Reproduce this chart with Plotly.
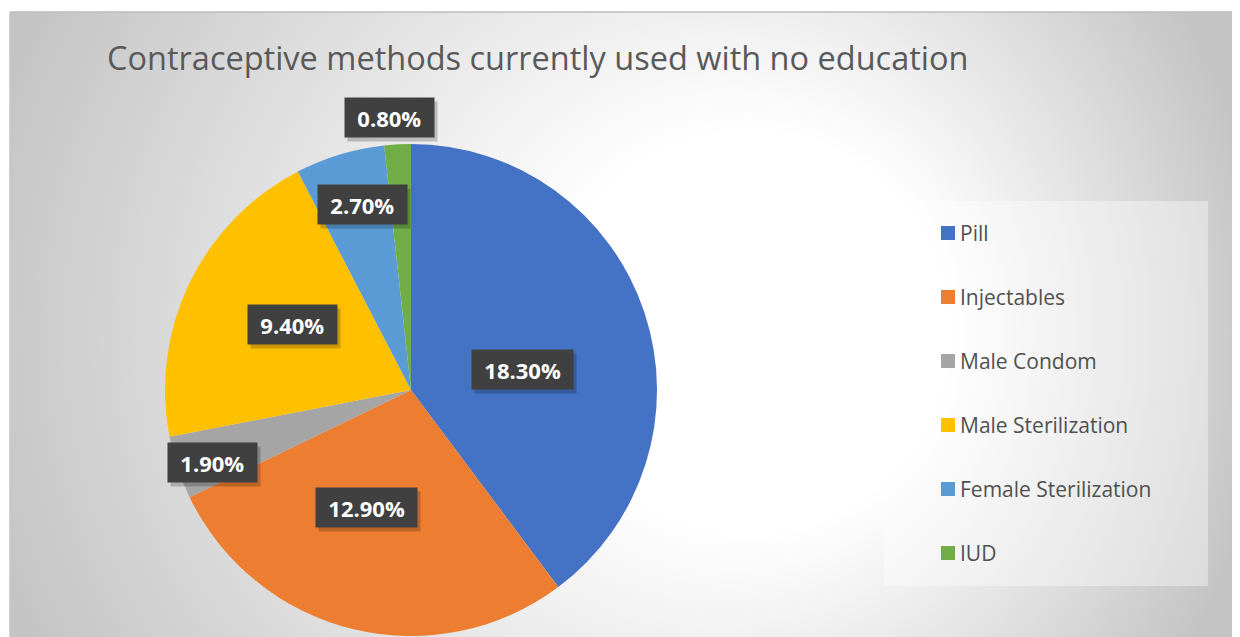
import math
import base64
import plotly.graph_objects as go

# ---------------- data ----------------
methods = ["Pill", "Injectables", "Male Condom", "Male Sterilization", "Female Sterilization", "IUD"]
values = [18.30, 12.90, 1.90, 9.40, 2.70, 0.80]
colors = ["#4472C4", "#ED7D31", "#A5A5A5", "#FFC000", "#5B9BD5", "#70AD47"]
title_text = "Contraceptive methods currently used with no education"

# ---------------- layout constants (page px) ----------------
OFF = 8                             # page offset of the figure (body margin)
W, H = 1240 - OFF, 637 - OFF
CX, CY, R = 411, 390, 246          # pie centre / radius in page pixels
# label placement (Excel "best fit" style): radial factor and angular nudge
LABEL_RF = [0.46, 0.51, 0.86, 0.55, 0.78, 1.11]
LABEL_DA = [7.7, 7.2, -1.6, 3.1, 2.2, -1.3]
LBL_FONT = 22


def px_x(x):
    return (x - OFF) / W


def px_y(y):
    return 1 - (y - OFF) / H


def text_w(s, size):
    # rough Open Sans Bold advance widths
    w = 0.0
    for ch in s:
        if ch.isdigit():
            w += 0.572
        elif ch == ".":
            w += 0.29
        elif ch == "%":
            w += 0.84
        else:
            w += 0.6
    return w * size


fig = go.Figure()

fig.add_trace(go.Pie(
    labels=methods,
    values=values,
    marker=dict(colors=colors, line=dict(color="white", width=0)),
    sort=False,
    direction="clockwise",
    rotation=0,
    textinfo="none",
    hovertemplate="%{label}: %{value:.2f}%<extra></extra>",
    domain=dict(x=[px_x(CX - R), px_x(CX + R)], y=[max(0, px_y(CY + R)), px_y(CY - R)]),
    showlegend=False,
))

# ---------------- data labels ----------------
total = sum(values)
annotations = []
cum = 0.0
for i, v in enumerate(values):
    mid = (cum + v / 2) / total * 360.0
    cum += v
    ang = math.radians(mid + LABEL_DA[i])
    r = R * LABEL_RF[i]
    lx = CX + r * math.sin(ang)
    ly = CY - r * math.cos(ang)
    plain = f"{v:.2f}%"
    bw = text_w(plain, LBL_FONT) + 8
    # soft shadow box
    annotations.append(dict(
        x=px_x(lx), y=px_y(ly), xref="paper", yref="paper",
        xanchor="center", yanchor="middle",
        text=" ", showarrow=False, xshift=3, yshift=-4, width=bw, height=21,
        font=dict(family="Open Sans", size=LBL_FONT, color="rgba(0,0,0,0)"),
        bgcolor="rgba(0,0,0,0.2)", borderpad=9,
    ))
    annotations.append(dict(
        x=px_x(lx), y=px_y(ly), xref="paper", yref="paper",
        xanchor="center", yanchor="middle",
        text=f"<b>{plain}</b>", showarrow=False, width=bw, height=21,
        font=dict(family="Open Sans", size=LBL_FONT, color="white"),
        bgcolor="#404040", borderpad=9,
    ))

# ---------------- title ----------------
annotations.append(dict(
    x=px_x(105), y=px_y(57), xref="paper", yref="paper",
    xanchor="left", yanchor="middle", showarrow=False,
    text=title_text,
    font=dict(family="Open Sans", size=32.5, color="#595959"),
))

# ---------------- legend (drawn manually for Excel-like spacing) ----------------
shapes = []
LEG_X0, LEG_X1, LEG_Y0, LEG_Y1 = 884, 1208, 201, 586
shapes.append(dict(type="rect", xref="paper", yref="paper",
                   x0=px_x(LEG_X0), x1=px_x(LEG_X1), y0=px_y(LEG_Y1), y1=px_y(LEG_Y0),
                   fillcolor="rgba(255,255,255,0.38)", line=dict(width=0), layer="below"))
ROW0, ROWGAP = 233, 64
for i, (m, c) in enumerate(zip(methods, colors)):
    yc = ROW0 + i * ROWGAP
    shapes.append(dict(type="rect", xref="paper", yref="paper",
                       x0=px_x(941), x1=px_x(955), y0=px_y(yc + 7), y1=px_y(yc - 7),
                       fillcolor=c, line=dict(width=0)))
    annotations.append(dict(
        x=px_x(958), y=px_y(yc), xref="paper", yref="paper",
        xanchor="left", yanchor="middle", showarrow=False, text=m,
        font=dict(family="Open Sans", size=21, color="#505050"),
    ))

# chart frame: top and left edges
shapes.append(dict(type="line", xref="paper", yref="paper",
                   x0=px_x(10), x1=px_x(1240), y0=px_y(12), y1=px_y(12),
                   line=dict(color="#bdbdbd", width=1.5)))
shapes.append(dict(type="line", xref="paper", yref="paper",
                   x0=px_x(10), x1=px_x(10), y0=px_y(12), y1=px_y(637),
                   line=dict(color="#c4c4c4", width=1.5)))

# ---------------- gradient background (SVG data URI) ----------------
svg = (
    '<svg xmlns="http://www.w3.org/2000/svg" width="1230" height="625">'
    '<defs><radialGradient id="g" gradientUnits="userSpaceOnUse" cx="600" cy="320" r="660" fx="800" fy="320">'
    '<stop offset="0" stop-color="#ffffff"/>'
    '<stop offset="0.3" stop-color="#ffffff"/>'
    '<stop offset="1" stop-color="#c4c4c4"/>'
    '</radialGradient></defs>'
    '<rect width="1230" height="625" fill="url(#g)"/></svg>'
)
svg_uri = "data:image/svg+xml;base64," + base64.b64encode(svg.encode()).decode()

fig.update_layout(
    width=W, height=H,
    margin=dict(l=0, r=0, t=0, b=0),
    paper_bgcolor="white",
    showlegend=False,
    annotations=annotations,
    shapes=shapes,
    images=[dict(source=svg_uri, xref="paper", yref="paper",
                 x=px_x(10), y=px_y(12), sizex=1230 / W, sizey=625 / H,
                 xanchor="left", yanchor="top", sizing="stretch", layer="below")],
)

fig.write_html("out.html")
